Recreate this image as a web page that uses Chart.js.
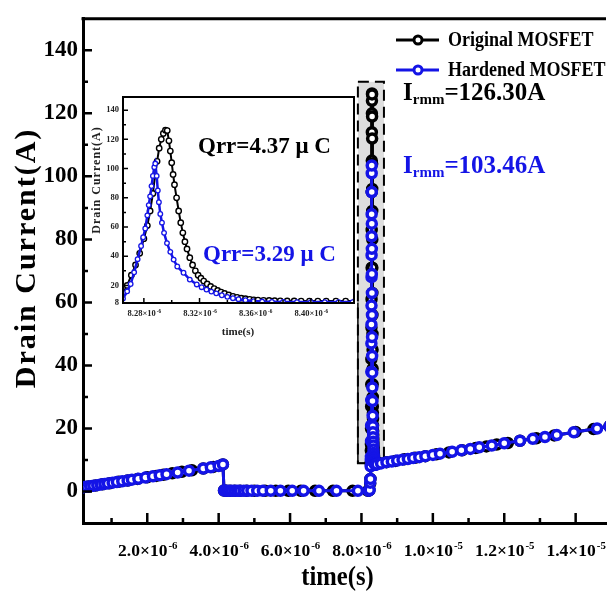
<!DOCTYPE html>
<html>
<head>
<meta charset="utf-8">
<script src="https://cdn.jsdelivr.net/npm/chart.js@4.4.1/dist/chart.umd.min.js"></script>
<style>
  html, body { margin: 0; padding: 0; background: #fff; }
  #wrap { position: relative; width: 614px; height: 596px; overflow: hidden; }
  #main { position: absolute; left: 0; top: 0; }
  #inset { position: absolute; left: 80px; top: 85px; }
</style>
</head>
<body>
<div id="wrap">
  <canvas id="main" width="614" height="596"></canvas>
  <canvas id="inset" width="285" height="262"></canvas>
</div>
<script>
// ---- data (time in microseconds, current in A) ----
const origTimeUs = [0.20, 0.35, 0.55, 0.75, 0.95, 1.20, 1.45, 1.73, 2.00, 2.25, 2.45, 2.70, 2.97, 3.25, 3.57, 3.85, 4.08, 4.12,
  4.15, 4.22, 4.32, 4.45, 4.60, 4.78, 5.00, 5.30, 5.60, 5.95, 6.30, 6.70, 7.20, 7.75, 8.18, 8.22, 8.245, 8.252, 8.258, 8.262,
  8.265, 8.268, 8.271, 8.274, 8.277, 8.280, 8.2825, 8.2845, 8.2865, 8.288, 8.2895, 8.291, 8.2925, 8.294, 8.2955, 8.2968,
  8.298, 8.299, 8.300, 8.301, 8.302, 8.3035, 8.305, 8.3065, 8.308, 8.3095, 8.311, 8.313, 8.315, 8.317, 8.319, 8.321, 8.323,
  8.3255, 8.328, 8.3305, 8.333, 8.3355, 8.338, 8.341, 8.344, 8.347, 8.350, 8.353, 8.356, 8.359, 8.362, 8.366, 8.370, 8.374,
  8.378, 8.383, 8.388, 8.393, 8.399, 8.405, 8.411, 8.418, 8.425, 8.432,
  8.50, 8.70, 8.95, 9.20, 9.50, 9.79, 10.10, 10.45, 10.82, 11.20, 11.50, 11.79, 12.10, 12.44, 12.90, 13.40, 14.00, 14.50, 14.95];
const origCurrent = [1.3, 1.55, 1.9, 2.3, 2.6, 3.1, 3.5, 4.0, 4.5, 4.95, 5.3, 5.75, 6.25, 6.75, 7.3, 7.8, 8.3, 8.6,
  0.3, 0.2, 0.2, 0.2, 0.2, 0.2, 0.2, 0.2, 0.2, 0.2, 0.2, 0.2, 0.2, 0.2, 0.2, 0.4, 2.5, 4, 9, 13,
  15, 20, 27, 34, 42, 52, 61, 71, 83, 95, 105, 114, 120, 124, 126.3, 126,
  119, 112, 104, 96, 89, 80, 71, 63, 56, 50, 45, 39, 34, 30, 27, 25, 23,
  21, 19.3, 17.9, 16.6, 15.5, 14.5, 13.5, 12.6, 11.9, 11.3, 10.9, 10.5, 10.2, 10.0, 9.8, 9.7, 9.6,
  9.5, 9.4, 9.4, 9.3, 9.3, 9.3, 9.3, 9.3, 9.3, 9.3,
  9.0, 9.3, 9.7, 10.2, 10.7, 11.2, 11.8, 12.4, 13.1, 13.8, 14.3, 14.9, 15.4, 16.1, 16.9, 17.8, 18.9, 19.8, 20.7];

const hardTimeUs = [0.20, 0.30, 0.40, 0.49, 0.60, 0.70, 0.80, 0.90, 1.03, 1.15, 1.30, 1.45, 1.57, 1.75, 1.95, 2.16, 2.35, 2.54, 2.85, 3.17, 3.57, 3.78, 4.00, 4.12,
  4.15, 4.20, 4.28, 4.36, 4.44, 4.52, 4.60, 4.70, 4.80, 4.92, 5.08, 5.24, 5.46, 5.73, 6.06, 6.38, 6.81, 7.30, 7.90, 8.20, 8.23, 8.245, 8.252, 8.258, 8.262,
  8.265, 8.268, 8.2705, 8.273, 8.2755, 8.278, 8.2795, 8.281, 8.2825, 8.2835, 8.2845, 8.2855, 8.2865, 8.2875, 8.2882,
  8.2892, 8.2900, 8.2908, 8.2918, 8.293, 8.2945, 8.2966, 8.299, 8.3014, 8.304, 8.3085, 8.313,
  8.318, 8.3215, 8.325, 8.3285, 8.332, 8.336, 8.340, 8.344, 8.348, 8.353, 8.359, 8.365, 8.372, 8.380, 8.390, 8.400, 8.410, 8.420, 8.430,
  8.55, 8.70, 8.85, 9.00, 9.15, 9.30, 9.45, 9.62, 9.79, 10.00, 10.20, 10.54, 10.80, 11.05, 11.30, 11.65, 12.00, 12.44, 12.80, 13.14, 13.47, 13.95, 14.60, 14.95];
const hardCurrent = [1.3, 1.5, 1.65, 1.8, 2.0, 2.2, 2.4, 2.55, 2.8, 3.0, 3.25, 3.5, 3.75, 4.05, 4.4, 4.8, 5.15, 5.5, 6.0, 6.6, 7.3, 7.7, 8.1, 8.6,
  0.3, 0.2, 0.2, 0.2, 0.2, 0.2, 0.2, 0.2, 0.2, 0.2, 0.2, 0.2, 0.2, 0.2, 0.2, 0.2, 0.2, 0.2, 0.2, 0.2, 0.5, 2.8, 4, 8, 10,
  11, 16, 21, 29, 38, 47, 53, 59, 68, 75, 81, 88, 95, 101, 103.46,
  95, 85, 77, 69, 63, 56, 49, 43, 37.7, 33, 28.7, 24,
  20.7, 18.8, 17.2, 15.8, 14.6, 13.3, 12.2, 11.3, 10.6, 9.9, 9.3, 9.0, 8.8, 8.7, 8.6, 8.6, 8.6, 8.6, 8.6,
  8.9, 9.3, 9.5, 9.8, 10.1, 10.3, 10.6, 10.9, 11.2, 11.6, 12.0, 12.6, 13.1, 13.5, 14.0, 14.6, 15.3, 16.1, 16.7, 17.3, 17.9, 18.8, 20.0, 20.7];

const seriesNames = ['Original MOSFET', 'Hardened MOSFET'];
const seriesColors = ['#000000', '#1414e6'];

// main axes ticks
const yTicksMain = [0, 20, 40, 60, 80, 100, 120, 140];
const yMinorMain = [10, 30, 50, 70, 90, 110, 130];
const xTicksMain = [2e-6, 4e-6, 6e-6, 8e-6, 1e-5, 1.2e-5, 1.4e-5];
const xTickBaseMain = ['2.0×10', '4.0×10', '6.0×10', '8.0×10', '1.0×10', '1.2×10', '1.4×10'];
const xTickExpMain = ['-6', '-6', '-6', '-6', '-5', '-5', '-5'];
const xMinorMain = [1e-6, 3e-6, 5e-6, 7e-6, 9e-6, 1.1e-5, 1.3e-5];

// inset axes ticks
const yTicksInset = [8, 20, 40, 60, 80, 100, 120, 140];
const yMinorInset = [30, 50, 70, 90, 110, 130];
const xTicksInset = [8.28e-6, 8.32e-6, 8.36e-6, 8.40e-6];
const xTickBaseInset = ['8.28×10', '8.32×10', '8.36×10', '8.40×10'];
const xTickExpInset = ['-6', '-6', '-6', '-6'];
const xMinorInset = [8.30e-6, 8.34e-6, 8.38e-6, 8.42e-6];

// zoomed window marked on the main plot
const zoomBoxX = [7.9e-6, 8.63e-6];
const zoomBoxY = [9, 130];

const peakLabels = ['126.30A', '103.46A'];
const chargeLabels = ['Qrr=4.37 μ C', 'Qrr=3.29 μ C'];

function points(t, v) {
  return t.map((x, i) => ({ x: x * 1e-6, y: v[i] }));
}

const serif = "'Liberation Serif', 'Times New Roman', serif";

function text(ctx, s, x, y, size, color, align, sx) {
  ctx.save();
  ctx.font = 'bold ' + size + 'px ' + serif;
  ctx.fillStyle = color;
  ctx.textAlign = align || 'left';
  ctx.textBaseline = 'middle';
  ctx.translate(x, y);
  ctx.scale(sx || 1, 1);
  ctx.fillText(s, 0, 0);
  ctx.restore();
}

// label like 2.0x10^-6 centered at x
function expLabel(ctx, base, exp, x, y, size, color) {
  ctx.save();
  ctx.fillStyle = color;
  ctx.textBaseline = 'alphabetic';
  ctx.font = 'bold ' + size + 'px ' + serif;
  const w1 = ctx.measureText(base).width;
  ctx.font = 'bold ' + (size * 0.62) + 'px ' + serif;
  const w2 = ctx.measureText(exp).width;
  const x0 = x - (w1 + w2) / 2;
  ctx.font = 'bold ' + size + 'px ' + serif;
  ctx.fillText(base, x0, y);
  ctx.font = 'bold ' + (size * 0.62) + 'px ' + serif;
  ctx.fillText(exp, x0 + w1 + 1, y - size * 0.4);
  ctx.restore();
}

function inwardTicks(chart, axis, values, len, width) {
  const ctx = chart.ctx, s = chart.scales[axis], a = chart.chartArea;
  ctx.save();
  ctx.strokeStyle = '#000';
  ctx.lineWidth = width;
  ctx.beginPath();
  values.forEach(v => {
    const p = s.getPixelForValue(v);
    if (axis === 'x') { ctx.moveTo(p, a.bottom); ctx.lineTo(p, a.bottom - len); }
    else { ctx.moveTo(a.left, p); ctx.lineTo(a.left + len, p); }
  });
  ctx.stroke();
  ctx.restore();
}

const mainDecor = {
  id: 'mainDecor',
  beforeDatasetsDraw(chart) {
    const ctx = chart.ctx, x = chart.scales.x, y = chart.scales.y;
    const x1 = x.getPixelForValue(zoomBoxX[0]), x2 = x.getPixelForValue(zoomBoxX[1]);
    const y1 = y.getPixelForValue(zoomBoxY[1]), y2 = y.getPixelForValue(zoomBoxY[0]);
    ctx.save();
    ctx.fillStyle = '#dedede';
    ctx.fillRect(x1, y1, x2 - x1, y2 - y1);
    ctx.strokeStyle = '#000';
    ctx.lineWidth = 1.5;
    ctx.beginPath();
    ctx.moveTo(x1, y.getPixelForValue(60));
    ctx.lineTo(x1, y2);
    ctx.lineTo(x.getPixelForValue(8.45e-6), y2);
    ctx.stroke();
    ctx.lineWidth = 2;
    ctx.setLineDash([11, 6]);
    ctx.strokeRect(x1, y1, x2 - x1, y2 - y1);
    ctx.restore();
  },
  afterDraw(chart) {
    const ctx = chart.ctx, a = chart.chartArea, xs = chart.scales.x;
    // top frame line
    ctx.save();
    ctx.strokeStyle = '#000';
    ctx.lineWidth = 3;
    ctx.beginPath();
    ctx.moveTo(a.left - 1.5, a.top);
    ctx.lineTo(a.right, a.top);
    ctx.stroke();
    ctx.restore();

    inwardTicks(chart, 'y', yTicksMain, 9, 2.5);
    inwardTicks(chart, 'y', yMinorMain, 5, 2.5);
    inwardTicks(chart, 'x', xTicksMain, 10, 2.5);
    inwardTicks(chart, 'x', xMinorMain, 5, 2.5);

    xTicksMain.forEach((v, i) => {
      expLabel(ctx, xTickBaseMain[i], xTickExpMain[i], xs.getPixelForValue(v), 556, 17.5, '#000');
    });

    // axis titles
    text(ctx, 'time(s)', (a.left + a.right) / 2 - 7, 578, 28, '#000', 'center', 0.88);
    ctx.save();
    ctx.translate(27, 258);
    ctx.rotate(-Math.PI / 2);
    ctx.font = 'bold 30px ' + serif;
    ctx.letterSpacing = '2px';
    ctx.fillStyle = '#000';
    ctx.textAlign = 'center';
    ctx.textBaseline = 'middle';
    ctx.fillText('Drain Current(A)', 0, 0);
    ctx.restore();

    // legend
    [40, 70].forEach((ly, i) => {
      ctx.save();
      ctx.strokeStyle = seriesColors[i];
      ctx.lineWidth = 3;
      ctx.beginPath();
      ctx.moveTo(396, ly);
      ctx.lineTo(439, ly);
      ctx.stroke();
      ctx.beginPath();
      ctx.arc(418, ly, 4, 0, Math.PI * 2);
      ctx.fillStyle = '#fff';
      ctx.fill();
      ctx.lineWidth = 3;
      ctx.stroke();
      ctx.restore();
      text(ctx, seriesNames[i], 448, ly + 1, 20, '#000', 'left', 0.9);
    });

    // peak current labels
    [100, 173].forEach((by, i) => {
      ctx.save();
      ctx.fillStyle = seriesColors[i];
      ctx.textBaseline = 'alphabetic';
      ctx.font = 'bold 25px ' + serif;
      let px = 403;
      ctx.fillText('I', px, by);
      px += ctx.measureText('I').width;
      ctx.font = 'bold 15px ' + serif;
      ctx.fillText('rmm', px, by + 4);
      px += ctx.measureText('rmm').width;
      ctx.font = 'bold 25px ' + serif;
      ctx.fillText('=' + peakLabels[i], px, by);
      ctx.restore();
    });
  }
};

const insetDecor = {
  id: 'insetDecor',
  beforeDraw(chart) {
    const ctx = chart.ctx, a = chart.chartArea;
    ctx.save();
    ctx.fillStyle = '#fff';
    ctx.fillRect(a.left, a.top, a.right - a.left, a.bottom - a.top);
    ctx.restore();
  },
  afterDraw(chart) {
    const ctx = chart.ctx, a = chart.chartArea, xs = chart.scales.x;
    ctx.save();
    ctx.strokeStyle = '#000';
    ctx.lineWidth = 2;
    ctx.strokeRect(a.left, a.top, a.right - a.left, a.bottom - a.top);
    ctx.restore();

    inwardTicks(chart, 'y', yTicksInset.slice(1), 5, 1.5);
    inwardTicks(chart, 'y', yMinorInset, 3, 1.5);
    inwardTicks(chart, 'x', xTicksInset, 5, 1.5);
    inwardTicks(chart, 'x', xMinorInset, 3, 1.5);

    xTicksInset.forEach((v, i) => {
      expLabel(ctx, xTickBaseInset[i], xTickExpInset[i], xs.getPixelForValue(v), a.bottom + 13, 8.5, '#222');
    });

    text(ctx, 'time(s)', 158, 247, 11, '#222', 'center');
    ctx.save();
    ctx.translate(17, 95);
    ctx.rotate(-Math.PI / 2);
    ctx.font = 'bold 12px ' + serif;
    ctx.letterSpacing = '1px';
    ctx.fillStyle = '#222';
    ctx.textAlign = 'center';
    ctx.textBaseline = 'middle';
    ctx.fillText('Drain Current(A)', 0, 0);
    ctx.restore();

    text(ctx, chargeLabels[0], 118, 62, 23, seriesColors[0], 'left');
    text(ctx, chargeLabels[1], 123, 170, 23, seriesColors[1], 'left');
  }
};

function dataset(i, t, v, lw, r, pbw, order) {
  return {
    label: seriesNames[i],
    data: points(t, v),
    showLine: true,
    borderColor: seriesColors[i],
    borderWidth: lw,
    pointRadius: r,
    pointBorderWidth: pbw,
    pointBorderColor: seriesColors[i],
    pointBackgroundColor: '#ffffff',
    order: order
  };
}

const axisFont = (size) => ({ family: serif, size: size, weight: 'bold' });

new Chart(document.getElementById('main'), {
  type: 'scatter',
  data: {
    datasets: [
      dataset(1, hardTimeUs, hardCurrent, 3, 4.5, 3.5, 0),
      dataset(0, origTimeUs, origCurrent, 3, 4.5, 3.5, 1)
    ]
  },
  options: {
    animation: false,
    responsive: false,
    devicePixelRatio: 1,
    layout: { padding: { top: 13, right: 0, left: 0, bottom: 0 } },
    plugins: { legend: { display: false }, tooltip: { enabled: false } },
    scales: {
      x: {
        type: 'linear', min: 2e-7, max: 1.485e-5,
        grid: { display: false, drawTicks: false },
        border: { display: true, color: '#000', width: 3 },
        ticks: { display: false },
        afterFit(s) { s.height = 73; }
      },
      y: {
        type: 'linear', min: -10, max: 150,
        grid: { display: false, drawTicks: false },
        border: { display: true, color: '#000', width: 3 },
        ticks: { font: axisFont(23), color: '#000', padding: 5 },
        afterBuildTicks(s) { s.ticks = yTicksMain.map(v => ({ value: v })); },
        afterFit(s) { s.width = 83; }
      }
    }
  },
  plugins: [mainDecor]
});

new Chart(document.getElementById('inset'), {
  type: 'scatter',
  data: {
    datasets: [
      dataset(1, hardTimeUs, hardCurrent, 2.5, 2.3, 1.3, 0),
      dataset(0, origTimeUs, origCurrent, 2, 2.7, 1.4, 1)
    ]
  },
  options: {
    animation: false,
    responsive: false,
    devicePixelRatio: 1,
    layout: { padding: { top: 12, right: 11, left: 0, bottom: 0 } },
    plugins: { legend: { display: false }, tooltip: { enabled: false } },
    scales: {
      x: {
        type: 'linear', min: 8.265e-6, max: 8.431e-6,
        grid: { display: false, drawTicks: false },
        border: { display: false },
        ticks: { display: false },
        afterFit(s) { s.height = 44; }
      },
      y: {
        type: 'linear', min: 8, max: 149,
        grid: { display: false, drawTicks: false },
        border: { display: false },
        ticks: { font: axisFont(8.5), color: '#222', padding: 4 },
        afterBuildTicks(s) { s.ticks = yTicksInset.map(v => ({ value: v })); },
        afterFit(s) { s.width = 43; }
      }
    }
  },
  plugins: [insetDecor]
});
</script>
</body>
</html>
